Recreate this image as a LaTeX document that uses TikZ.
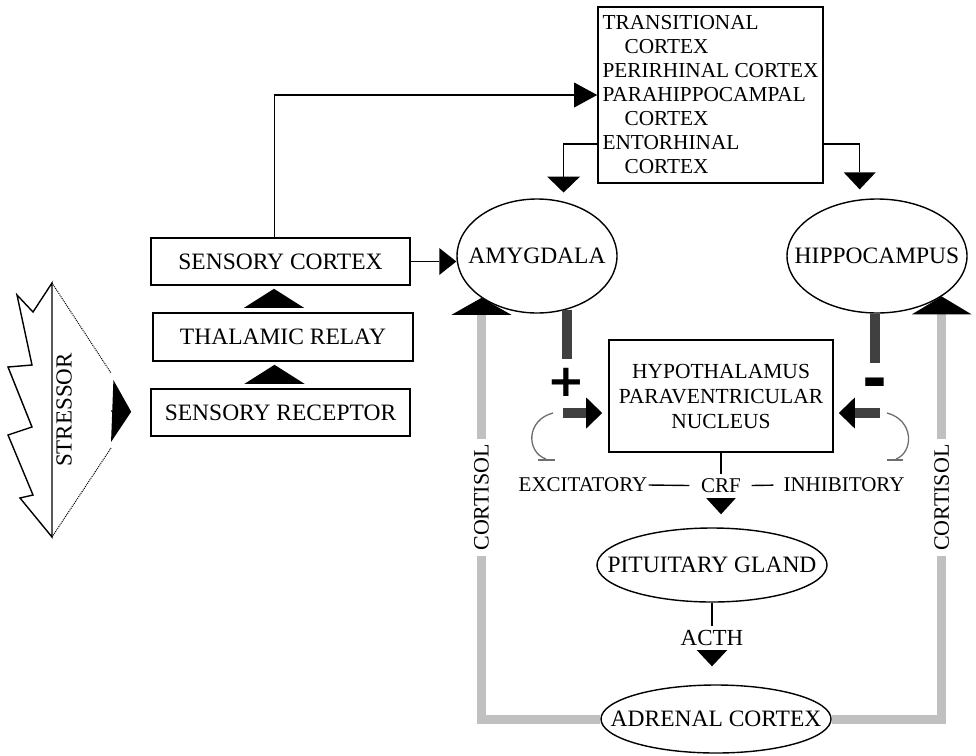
\documentclass[tikz,border=0pt]{standalone}
\usepackage{fontspec}
\setmainfont{Liberation Serif}
\newfontfamily\signfont{DejaVu Sans}
\usetikzlibrary{arrows.meta, shapes.geometric}
\definecolor{HPAGray}{RGB}{192, 192, 192}
\definecolor{HPADark}{RGB}{64, 64, 64}
\definecolor{HPACurve}{RGB}{110, 110, 110}

\begin{document}
\begin{tikzpicture}[x=1pt,y=-1pt,
    box/.style={draw, line width=1.6pt, rectangle, inner sep=0pt, font=\fontsize{23.5}{28}\selectfont},
    oval/.style={draw, line width=1.4pt, ellipse, inner xsep=-40pt, inner ysep=0pt, font=\fontsize{23.5}{28}\selectfont},
    link/.style={line width=1.4pt},
    lbl/.style={font=\fontsize{21}{24}\selectfont, inner sep=1pt},
    cortisol/.style={HPAGray, line width=9pt},
    darkbar/.style={HPADark, line width=10pt},
    sign/.style={font=\signfont\bfseries\fontsize{45}{45}\selectfont, inner sep=0pt},
    hook/.style={HPACurve, line width=1.3pt}]
  \useasboundingbox (0,0) rectangle (976,755);

  % stressor
  \draw[line width=1.4pt, line join=miter] (52,283) -- (33,312) -- (17,295) -- (32,365) -- (8,367)
    -- (32,427) -- (8,435) -- (33,495) -- (20,498) -- (52,537) -- cycle;
  \draw[line width=1pt, densely dotted] (52,283) -- (111,373);
  \draw[line width=1pt, densely dotted] (52,537) -- (111,448);
  \node[rotate=90, font=\fontsize{23}{26}\selectfont] (stress) at (64,410) {STRESSOR};
  \coordinate (strtip) at (111,411);

  % sensory pathway
  \node[box, minimum width=259pt, minimum height=47pt] (sens) at (280.5,261.5) {SENSORY CORTEX};
  \node[box, minimum width=260pt, minimum height=48pt] (thal) at (283,337) {THALAMIC RELAY};
  \node[box, minimum width=259pt, minimum height=47pt] (recv) at (280.5,412.5) {SENSORY RECEPTOR};

  \node[box, minimum width=225pt, minimum height=176pt, align=left,
    font=\fontsize{21.3}{24}\selectfont] (tbox) at (710.5,95)
    {TRANSITIONAL\\\hspace*{22pt}CORTEX\\PERIRHINAL CORTEX\\PARAHIPPOCAMPAL\\
     \hspace*{22pt}CORTEX\\ENTORHINAL\\\hspace*{22pt}CORTEX};

  \node[oval, minimum width=160pt, minimum height=114pt] (amy) at (537,256) {AMYGDALA};
  \node[oval, minimum width=180pt, minimum height=114pt] (hip) at (877,256) {HIPPOCAMPUS};

  \node[box, minimum width=224pt, minimum height=112pt, align=center,
    font=\fontsize{21.5}{25}\selectfont] (hyp) at (721,396)
    {HYPOTHALAMUS\\PARAVENTRICULAR\\NUCLEUS};

  \node[oval, minimum width=230pt, minimum height=74pt] (pit) at (712,565) {PITUITARY GLAND};
  \node[oval, minimum width=230pt, minimum height=68pt] (adr) at (716,719) {ADRENAL CORTEX};

  % arrows
  \draw[link, -{Triangle[length=19pt,width=62pt,line width=0pt]}, shorten >=19pt] (strtip) -- (recv.west);
  \draw[link, -{Triangle[length=19pt,width=60pt,line width=0pt]}, shorten <=8pt, shorten >=3pt]
    ([xshift=-6pt]recv.north) -- ([xshift=-6pt]recv.north |- thal.south);
  \draw[link, -{Triangle[length=19pt,width=60pt,line width=0pt]}, shorten <=8pt, shorten >=3pt]
    ([xshift=-9pt]thal.north) -- ([xshift=-9pt]thal.north |- sens.south);
  \draw[link, -{Triangle[length=23pt,width=25pt,line width=0pt]}] ([xshift=-6pt]sens.north) |- (tbox.west);
  \draw[link, -{Triangle[length=17pt,width=27pt,line width=0pt]}] (sens.east) -- (sens.east -| amy.west);
  \draw[link, -{Triangle[length=16pt,width=33pt,line width=0pt]}, shorten >=9pt] ([yshift=-49pt]tbox.west) -| (amy.64);
  \draw[link, -{Triangle[length=17pt,width=32pt,line width=0pt]}, shorten >=10pt] ([yshift=-49pt]tbox.east) -| (hip.107);

  % excitatory / inhibitory input
  \draw[darkbar] (amy.-61) -- ++(0,49);
  \node[sign] (plus) at (566,382) {+};
  \coordinate (plusin) at (563,413);
  \draw[darkbar, -{Triangle[length=16pt,width=31pt,color=black,fill=black,line width=0pt]}, shorten >=6pt]
    (plusin) -- ([yshift=-17pt]hyp.west);
  \draw[hook] (553,413) .. controls (526,420) and (526,452) .. (546,459);
  \draw[hook] (538,460) -- (555,460);

  \draw[darkbar] ([xshift=-2pt]hip.south) -- ++(0,49);
  \node[sign, font=\signfont\bfseries\fontsize{60}{60}\selectfont] (minus) at (875,389) {-};
  \coordinate (minusin) at (880,413);
  \draw[darkbar, -{Triangle[length=16pt,width=31pt,color=black,fill=black,line width=0pt]}, shorten >=5pt]
    (minusin) -- ([yshift=-17pt]hyp.east);
  \draw[hook] (887,413) .. controls (914,420) and (914,452) .. (896,459);
  \draw[hook] (887,460) -- (903,460);

  % hormone cascade
  \draw[link, -{Triangle[length=17pt,width=31pt,line width=0pt]}, shorten >=13pt] (hyp.south)
    -- node[lbl, fill=white, inner sep=5pt, pos=0.44] (crf) {CRF} (hyp.south |- pit.north);
  \node[lbl] (exc) at (583,485) {EXCITATORY};
  \node[lbl] (inh) at (844,485) {INHIBITORY};
  \draw[link, shorten >=6pt] (exc.east) -- (crf.west);
  \draw[link, shorten <=5pt, shorten >=9pt] (crf.east) -- (inh.west);

  \draw[link, -{Triangle[length=17pt,width=32pt,line width=0pt]}, shorten >=18pt] (pit.south)
    -- node[lbl, font=\fontsize{23}{26}\selectfont, fill=white, inner sep=4pt, pos=0.43] (acth) {ACTH} (pit.south |- adr.north);

  % cortisol feedback
  \draw[cortisol, -{Triangle[length=17pt,width=60pt,color=black,fill=black,line width=0pt]}] (adr.west)
    -| node[lbl, font=\fontsize{22}{24}\selectfont, pos=0.763, rotate=90, fill=white, text=black, inner sep=5pt] (cortl) {CORTISOL} (amy.217);
  \draw[cortisol, -{Triangle[length=18pt,width=60pt,color=black,fill=black,line width=0pt]}] (adr.east)
    -| node[lbl, font=\fontsize{22}{24}\selectfont, pos=0.762, rotate=90, fill=white, text=black, inner sep=5pt] (cortr) {CORTISOL} (hip.-32);
\end{tikzpicture}
\end{document}
